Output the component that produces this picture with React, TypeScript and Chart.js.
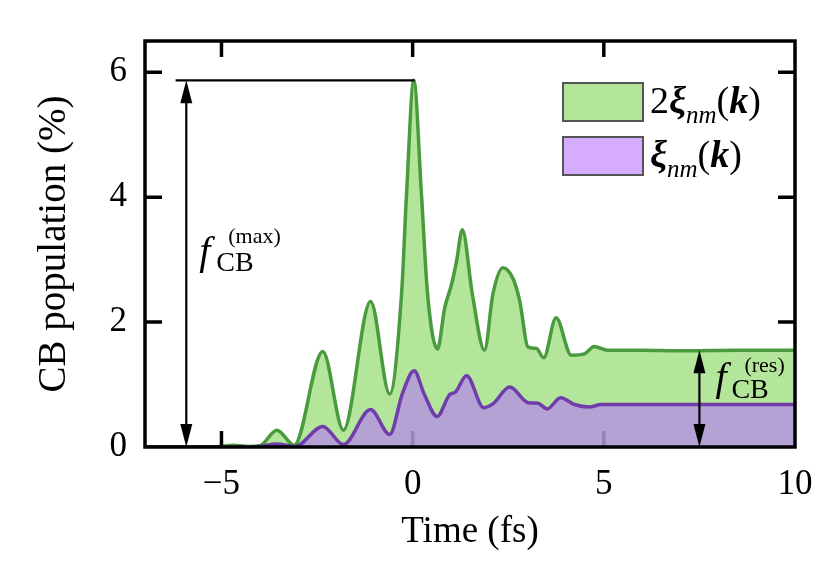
import React, { useEffect, useRef } from "react";
import { Chart, registerables } from "chart.js";

Chart.register(...registerables);

// ---- data ----
const xTicks = [-5, 0, 5, 10];
const yTicks = [0, 2, 4, 6];

const timeGreen = [-7, -5.6, -5.0, -4.7, -4.3, -4.0, -3.55, -3.1, -2.35, -1.81, -1.1, -0.6, -0.29, -0.16, 0.03, 0.23, 0.39, 0.65, 0.84, 1.02, 1.15, 1.3, 1.56, 1.88, 2.1, 2.36, 2.62, 2.8, 3.02, 3.23, 3.43, 3.75, 4.15, 4.49, 4.75, 5.1, 6.0, 7.0, 8.5, 10];
const popGreen = [0.0, 0.0, 0.01, 0.03, 0.01, 0.02, 0.27, 0.03, 1.53, 0.27, 2.33, 0.85, 2.45, 4.05, 5.87, 4.05, 2.45, 1.57, 2.23, 2.61, 2.98, 3.48, 2.45, 1.55, 2.45, 2.87, 2.7, 2.34, 1.6, 1.58, 1.43, 2.07, 1.47, 1.49, 1.61, 1.55, 1.55, 1.54, 1.55, 1.55];

const timePurple = [-7, -4.5, -4.0, -3.55, -3.08, -2.35, -1.81, -1.1, -0.6, -0.27, 0.04, 0.3, 0.64, 0.97, 1.12, 1.41, 1.86, 2.1, 2.54, 3.02, 3.28, 3.52, 3.87, 4.23, 4.62, 4.93, 6.0, 8.0, 10];
const popPurple = [0.0, 0.0, 0.01, 0.05, 0.005, 0.33, 0.04, 0.6, 0.2, 0.85, 1.22, 0.85, 0.49, 0.84, 0.88, 1.14, 0.63, 0.69, 0.96, 0.71, 0.7, 0.61, 0.79, 0.68, 0.64, 0.68, 0.68, 0.68, 0.68];

// annotation values
const fMaxValue = 5.87;
const fMaxArrowX = -5.92;
const fMaxLineStart = -6.2;
const fMaxPeakX = 0.05;
const fResValue = 1.55;
const fResArrowX = 7.5;

const SERIF = "'Liberation Serif', 'Times New Roman', Times, serif";
const GREEN_LINE = "#4a9a3e";
const GREEN_FILL = "#b3e59a";
const PURPLE_LINE = "#703dab";
const PURPLE_FILL = "rgba(180,150,223,0.85)";
const PURPLE_LEGEND = "#d6acff";

function fmtTick(v: number): string {
  return v < 0 ? "\u2212" + Math.abs(v) : String(v);
}

type Part = [string, string, number];
function drawRun(ctx: CanvasRenderingContext2D, parts: Part[], x: number, y: number) {
  let cx = x;
  for (const [t, f, dy] of parts) {
    ctx.font = f;
    ctx.fillText(t, cx, y + dy);
    cx += ctx.measureText(t).width;
  }
}

function vArrow(ctx: CanvasRenderingContext2D, x: number, yTop: number, yBot: number) {
  const hl = 23;
  const hw = 6;
  ctx.beginPath();
  ctx.lineWidth = 2.2;
  ctx.moveTo(x, yTop + hl - 2);
  ctx.lineTo(x, yBot - hl + 2);
  ctx.stroke();
  ctx.beginPath();
  ctx.moveTo(x, yTop);
  ctx.lineTo(x - hw, yTop + hl);
  ctx.lineTo(x + hw, yTop + hl);
  ctx.closePath();
  ctx.fill();
  ctx.beginPath();
  ctx.moveTo(x, yBot);
  ctx.lineTo(x - hw, yBot - hl);
  ctx.lineTo(x + hw, yBot - hl);
  ctx.closePath();
  ctx.fill();
}

const decor = {
  id: "decor",
  afterDatasetDraw(chart: any, args: any) {
    if (args.index !== 0) return;
    const { ctx, chartArea: a, scales } = chart;
    const x = scales.x;
    ctx.save();
    ctx.strokeStyle = "#000";
    ctx.lineWidth = 3.5;
    for (const v of xTicks) {
      if (v <= x.min || v >= x.max) continue;
      const px = x.getPixelForValue(v);
      ctx.beginPath();
      ctx.moveTo(px, a.bottom);
      ctx.lineTo(px, a.bottom - 16);
      ctx.stroke();
    }
    ctx.restore();
  },
  afterDraw(chart: any) {
    const { ctx, chartArea: a, scales } = chart;
    const x = scales.x;
    const y = scales.y;
    ctx.save();
    ctx.strokeStyle = "#000";
    ctx.fillStyle = "#000";
    ctx.lineWidth = 3.5;
    // ticks top
    for (const v of xTicks) {
      if (v <= x.min || v >= x.max) continue;
      const px = x.getPixelForValue(v);
      ctx.beginPath();
      ctx.moveTo(px, a.top);
      ctx.lineTo(px, a.top + 16);
      ctx.stroke();
    }
    // ticks left/right
    for (const v of yTicks) {
      if (v <= y.min || v >= y.max) continue;
      const py = y.getPixelForValue(v);
      ctx.beginPath();
      ctx.moveTo(a.left, py);
      ctx.lineTo(a.left + 17, py);
      ctx.moveTo(a.right, py);
      ctx.lineTo(a.right - 17, py);
      ctx.stroke();
    }
    // frame
    ctx.lineWidth = 3.5;
    ctx.strokeRect(a.left, a.top, a.right - a.left, a.bottom - a.top);

    // f_CB^(max) annotation
    const yPeak = y.getPixelForValue(fMaxValue);
    ctx.lineWidth = 2.2;
    ctx.beginPath();
    ctx.moveTo(x.getPixelForValue(fMaxLineStart), yPeak);
    ctx.lineTo(x.getPixelForValue(fMaxPeakX), yPeak);
    ctx.stroke();
    const axL = x.getPixelForValue(fMaxArrowX);
    vArrow(ctx, axL, yPeak, a.bottom);
    ctx.textAlign = "left";
    ctx.textBaseline = "alphabetic";
    ctx.font = `italic 40px ${SERIF}`;
    ctx.fillText("f", axL + 13, 264);
    ctx.font = `28px ${SERIF}`;
    ctx.fillText("CB", axL + 30, 271);
    ctx.font = `22px ${SERIF}`;
    ctx.fillText("(max)", axL + 42, 243);

    // f_CB^(res) annotation
    const yRes = y.getPixelForValue(fResValue);
    const axR = x.getPixelForValue(fResArrowX);
    vArrow(ctx, axR, yRes, a.bottom);
    ctx.font = `italic 40px ${SERIF}`;
    ctx.fillText("f", axR + 16, 390);
    ctx.font = `28px ${SERIF}`;
    ctx.fillText("CB", axR + 32, 398);
    ctx.font = `22px ${SERIF}`;
    ctx.fillText("(res)", axR + 45, 372);

    // legend
    const bx = a.right - 232;
    const bw = 80;
    const bh = 38;
    const rows: { fill: string; top: number; parts: Part[] }[] = [
      {
        fill: GREEN_FILL,
        top: a.top + 42,
        parts: [
          ["2", `38px ${SERIF}`, 0],
          ["\u03BE", `italic bold 38px ${SERIF}`, 0],
          ["nm", `italic 25px ${SERIF}`, 10],
          ["(", `38px ${SERIF}`, 0],
          ["k", `italic bold 38px ${SERIF}`, 0],
          [")", `38px ${SERIF}`, 0],
        ],
      },
      {
        fill: PURPLE_LEGEND,
        top: a.top + 96,
        parts: [
          ["\u03BE", `italic bold 38px ${SERIF}`, 0],
          ["nm", `italic 25px ${SERIF}`, 10],
          ["(", `38px ${SERIF}`, 0],
          ["k", `italic bold 38px ${SERIF}`, 0],
          [")", `38px ${SERIF}`, 0],
        ],
      },
    ];
    for (const r of rows) {
      ctx.fillStyle = r.fill;
      ctx.fillRect(bx, r.top, bw, bh);
      ctx.strokeStyle = "#555";
      ctx.lineWidth = 2;
      ctx.strokeRect(bx, r.top, bw, bh);
      ctx.fillStyle = "#000";
      drawRun(ctx, r.parts, bx + bw + 7, r.top + 30);
    }
    ctx.restore();
  },
};

export default function App() {
  const ref = useRef<HTMLCanvasElement>(null);
  useEffect(() => {
    const canvas = ref.current;
    if (!canvas) return;
    const chart = new Chart(canvas, {
      type: "line",
      data: {
        datasets: [
          {
            label: "2xi",
            data: timeGreen.map((t, i) => ({ x: t, y: popGreen[i] })),
            borderColor: GREEN_LINE,
            backgroundColor: GREEN_FILL,
            fill: "origin",
            borderWidth: 3.5,
            pointRadius: 0,
            cubicInterpolationMode: "monotone",
            order: 2,
          },
          {
            label: "xi",
            data: timePurple.map((t, i) => ({ x: t, y: popPurple[i] })),
            borderColor: PURPLE_LINE,
            backgroundColor: PURPLE_FILL,
            fill: "origin",
            borderWidth: 3.5,
            pointRadius: 0,
            cubicInterpolationMode: "monotone",
            order: 1,
          },
        ],
      },
      options: {
        responsive: false,
        animation: false,
        events: [],
        layout: { padding: { top: 41, right: 35, left: 0, bottom: 0 } },
        plugins: {
          legend: { display: false },
          tooltip: { enabled: false },
        },
        scales: {
          x: {
            type: "linear",
            min: -7,
            max: 10,
            afterBuildTicks: (s: any) => {
              s.ticks = xTicks.map((v) => ({ value: v }));
            },
            afterFit: (s: any) => {
              s.height = 122;
            },
            grid: { display: false, drawTicks: false },
            border: { display: false },
            ticks: {
              padding: 17,
              color: "#000",
              autoSkip: false,
              maxRotation: 0,
              font: { family: SERIF, size: 35 },
              callback: (v: any) => fmtTick(Number(v)),
            },
            title: {
              display: true,
              text: "Time (fs)",
              color: "#000",
              font: { family: SERIF, size: 37 },
              padding: { top: 0, bottom: 15 },
            },
          },
          y: {
            type: "linear",
            min: 0,
            max: 6.5,
            afterBuildTicks: (s: any) => {
              s.ticks = yTicks.map((v) => ({ value: v }));
            },
            afterFit: (s: any) => {
              s.width = 145;
            },
            grid: { display: false, drawTicks: false },
            border: { display: false },
            ticks: {
              padding: 18,
              color: "#000",
              font: { family: SERIF, size: 35 },
              callback: (v: any) => fmtTick(Number(v)),
            },
            title: {
              display: true,
              text: "CB population (%)",
              color: "#000",
              font: { family: SERIF, size: 39 },
              padding: { top: 31, bottom: 0 },
            },
          },
        },
      },
      plugins: [decor],
    } as any);
    return () => chart.destroy();
  }, []);
  return (
    <div style={{ position: "fixed", left: 0, top: 0, width: 830, height: 569, background: "#fff" }}>
      <canvas ref={ref} width={830} height={569} style={{ display: "block" }} />
    </div>
  );
}
